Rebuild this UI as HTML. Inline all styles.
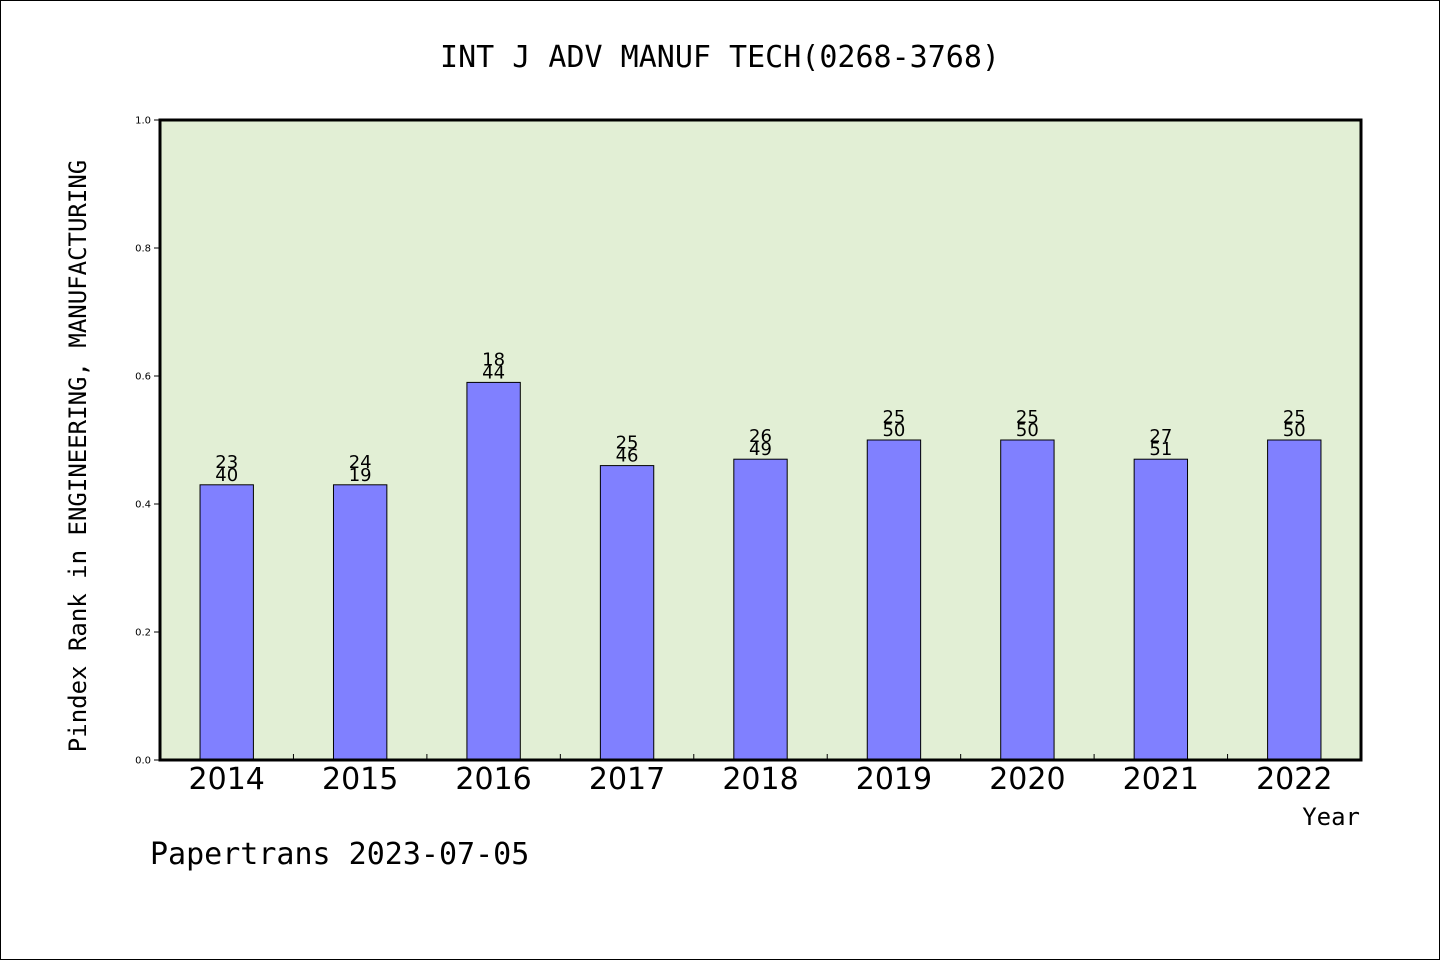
<!DOCTYPE html>
<html><head><meta charset="utf-8"><style>
html,body{margin:0;padding:0;background:#fff}
svg{display:block}
</style></head><body>
<svg id="chart" width="1440" height="960" xmlns="http://www.w3.org/2000/svg">
<rect x="0.5" y="0.5" width="1439" height="959" fill="#fff" stroke="#000"/>
<text x="720" y="67" text-anchor="middle" font-family="'DejaVu Sans Mono','Liberation Mono',monospace" font-size="30">INT J ADV MANUF TECH(0268-3768)</text>
<rect x="160" y="120" width="1201" height="640" fill="#e2efd5"/>
<g id="bars"></g>
<g id="axes"></g>
<rect x="160" y="120" width="1201" height="640" fill="none" stroke="#000" stroke-width="3"/>
<text transform="translate(86,456) rotate(-90)" text-anchor="middle" font-family="'DejaVu Sans Mono','Liberation Mono',monospace" font-size="24">Pindex Rank in ENGINEERING, MANUFACTURING</text>
<text x="1360" y="825" text-anchor="end" font-family="'DejaVu Sans Mono','Liberation Mono',monospace" font-size="24">Year</text>
<text x="150" y="864" font-family="'DejaVu Sans Mono','Liberation Mono',monospace" font-size="30">Papertrans 2023-07-05</text>
</svg>
<script>
const categories = ["2014","2015","2016","2017","2018","2019","2020","2021","2022"];
const values = [0.43,0.43,0.59,0.46,0.47,0.50,0.50,0.47,0.50];
const topLabels = ["23","24","18","25","26","25","25","27","25"];
const bottomLabels = ["40","19","44","46","49","50","50","51","50"];
const yTicks = [0,0.2,0.4,0.6,0.8,1.0];
const yTickLabels = ["0.0","0.2","0.4","0.6","0.8","1.0"];

const NS = "http://www.w3.org/2000/svg";
const X0 = 160, X1 = 1361, Y0 = 760, Y1 = 120;
const band = (X1 - X0) / categories.length;
const xc = i => X0 + band * (i + 0.5);
const ys = v => Y0 - (Y0 - Y1) * v;
function mk(tag, attrs, parent){const e=document.createElementNS(NS,tag);for(const k in attrs)e.setAttribute(k,attrs[k]);parent.appendChild(e);return e;}
const bars = document.getElementById('bars');
const axes = document.getElementById('axes');
const bw = band * 0.4;
categories.forEach((c,i)=>{
  const y = ys(values[i]);
  const r = mk('rect',{x:xc(i)-bw/2,y:y,width:bw,height:Y0-y,fill:'#8080ff',stroke:'#000','stroke-width':1},bars);
  
  
  const t1 = mk('text',{x:xc(i),y:y-17,'text-anchor':'middle','font-family':"'DejaVu Sans','Liberation Sans',sans-serif",'font-size':18},bars);
  t1.textContent = topLabels[i];
  
  
  const t2 = mk('text',{x:xc(i),y:y-4,'text-anchor':'middle','font-family':"'DejaVu Sans','Liberation Sans',sans-serif",'font-size':18},bars);
  t2.textContent = bottomLabels[i];
  
  
  const xl = mk('text',{x:xc(i),y:789,'text-anchor':'middle','font-family':"'DejaVu Sans','Liberation Sans',sans-serif",'font-size':30},axes);
  xl.textContent = c;
  
  
  if(i>0){
    const tk = mk('line',{x1:X0+band*i,x2:X0+band*i,y1:Y0,y2:Y0-6,stroke:'#000','stroke-width':1},axes);
    
    
  }
});
yTicks.forEach((v,i)=>{
  const y = ys(v);
  const tk = mk('line',{x1:X0-6,x2:X0,y1:y,y2:y,stroke:'#000','stroke-width':1},axes);
  
  
  const t = mk('text',{x:151,y:y+3.5,'text-anchor':'end','font-family':"'DejaVu Sans','Liberation Sans',sans-serif",'font-size':10},axes);
  t.textContent = yTickLabels[i];
  
  
});
</script>
</body></html>
